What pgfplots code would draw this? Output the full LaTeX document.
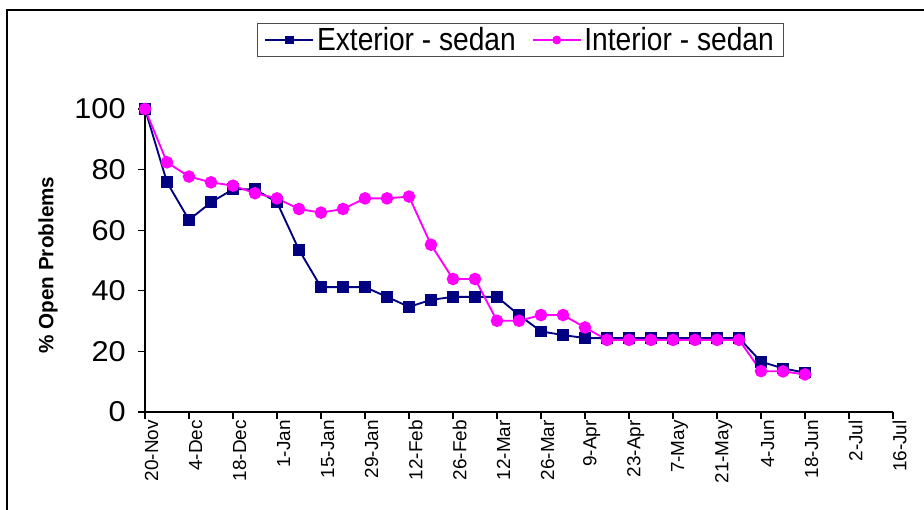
\documentclass[border=0pt]{standalone}
\usepackage{pgfplots}
\pgfplotsset{compat=1.18}
\usepackage{fontspec}
\setmainfont{Liberation Sans}
\newfontfamily\widefont[FakeStretch=1.07]{Liberation Sans}
\newfontfamily\narrowfont[FakeStretch=0.88]{Liberation Sans}
\definecolor{navyc}{RGB}{0,0,128}
\definecolor{magc}{RGB}{255,0,255}
\pgfplotstableread{
x ext int
0 100 100
7 75.8 82.4
14 63.4 77.7
21 69.2 75.8
28 73.5 74.7
35 73.5 72.2
42 69.2 70.5
49 53.5 67
56 41.2 65.8
63 41.2 67
70 41.2 70.5
77 38 70.5
84 34.7 71.1
91 37 55.2
98 38 43.9
105 38 43.9
112 38 30.1
119 32 30.1
126 26.6 32
133 25.4 32
140 24.4 27.9
147 24.4 23.8
154 24.4 23.8
161 24.4 23.8
168 24.4 23.8
175 24.4 23.8
182 24.4 23.8
189 24.4 23.8
196 16.6 13.5
203 14.4 13.4
210 13 12.4
}\datatable
\begin{document}
\begin{tikzpicture}
\useasboundingbox (0pt,0pt) rectangle (693pt,382.5pt);
\draw[line width=1.5pt] (5.25pt,0pt) -- (5.25pt,375pt) -- (693pt,375pt);
\begin{axis}[
  at={(108.75pt,73.5pt)}, anchor=south west,
  scale only axis, width=561pt, height=227.25pt,
  xmin=0, xmax=238, ymin=0, ymax=100,
  axis x line=bottom, axis y line=left,
  axis line style={-, line width=1pt, black},
  tick align=outside, major tick length=5pt,
  tick style={black, line width=0.8pt},
  xtick={0,14,...,238},
  xticklabels={20-Nov,4-Dec,18-Dec,1-Jan,15-Jan,29-Jan,12-Feb,26-Feb,12-Mar,26-Mar,9-Apr,23-Apr,7-May,21-May,4-Jun,18-Jun,2-Jul,16-Jul},
  xticklabel style={rotate=90, anchor=east, font=\fontsize{14.2}{16}\selectfont, inner sep=1pt, yshift=-5pt},
  ytick={0,20,...,100},
  yticklabel style={font=\widefont\fontsize{21.5}{24}\selectfont, anchor=east, xshift=-6pt},
  /pgf/number format/assume math mode=true,
  ylabel={\% Open Problems},
  ylabel style={font=\fontsize{15.5}{18}\selectfont\bfseries, at={(axis description cs:-0.1297,0.485)}, anchor=center, rotate=0},
  legend columns=2,
  legend style={at={(axis description cs:0.502,1.2277)}, anchor=center, draw=black!70, line width=0.8pt,
    font=\narrowfont\fontsize{24}{26}\selectfont, inner xsep=5pt, inner ysep=1pt,
    /tikz/every even column/.append style={column sep=10pt}},
  legend image code/.code={\draw[#1, mark size=2.6pt, mark repeat=2, mark phase=2] plot coordinates {(0pt,0pt) (18pt,0pt) (36pt,0pt)};},
  clip=false,
]
\addplot[color=navyc, line width=1.4pt, mark=square*, mark size=3.7pt, mark options={fill=navyc}] table[x=x,y=ext] {\datatable};
\addlegendentry{Exterior - sedan}
\addplot[color=magc, line width=1.4pt, mark=*, mark size=4pt, mark options={fill=magc}] table[x=x,y=int] {\datatable};
\addlegendentry{Interior - sedan}
\end{axis}
\end{tikzpicture}
\end{document}
